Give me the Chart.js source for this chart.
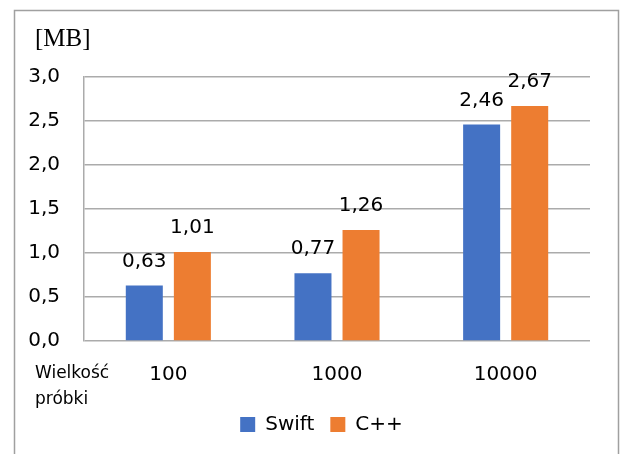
<!DOCTYPE html>
<html>
<head>
<meta charset="utf-8">
<script src="https://cdn.jsdelivr.net/npm/chart.js@4/dist/chart.umd.min.js"></script>
<style>
  html, body { margin: 0; padding: 0; background: #fff; }
  #wrap { width: 620px; height: 454px; }
</style>
</head>
<body>
<div id="wrap"><canvas id="c" width="620" height="454"></canvas></div>
<script>
// Memory usage [MB] by sample size
const categories = ['100', '1000', '10000'];
const swiftValues = [0.63, 0.77, 2.46];
const cppValues = [1.01, 1.26, 2.67];
const seriesNames = ['Swift', 'C++'];
const yTicks = [0, 0.5, 1.0, 1.5, 2.0, 2.5, 3.0];
const unitLabel = '[MB]';
const axisNote = ['Wielkość', 'próbki'];

const SANS = '"DejaVu Sans", sans-serif';
const GRID = '#ababab';

const fmt = (v, d) => v.toFixed(d).replace('.', ',');

// Frame, unit label and axis note around the plot
const decorations = {
  id: 'decorations',
  beforeDraw(chart) {
    const ctx = chart.ctx;
    ctx.save();
    ctx.fillStyle = '#fff';
    ctx.fillRect(0, 0, chart.width, chart.height);
    ctx.strokeStyle = '#a0a0a0';
    ctx.lineWidth = 1.5;
    ctx.beginPath();
    ctx.moveTo(14.5, 470);
    ctx.lineTo(14.5, 10.5);
    ctx.lineTo(618.5, 10.5);
    ctx.lineTo(618.5, 470);
    ctx.stroke();
    ctx.restore();
  },
  afterDraw(chart) {
    const ctx = chart.ctx;
    ctx.save();
    ctx.fillStyle = '#000';
    ctx.textAlign = 'left';
    ctx.textBaseline = 'alphabetic';
    ctx.font = '25px "Liberation Serif", serif';
    ctx.fillText(unitLabel, 35, 46);
    ctx.font = '17px ' + SANS;
    ctx.fillText(axisNote[0], 35, 378);
    ctx.fillText(axisNote[1], 35, 404);
    ctx.restore();
  }
};

// Value labels above each bar
const valueLabels = {
  id: 'valueLabels',
  afterDatasetsDraw(chart) {
    const ctx = chart.ctx;
    ctx.save();
    ctx.fillStyle = '#000';
    ctx.font = '20px ' + SANS;
    ctx.textAlign = 'center';
    ctx.textBaseline = 'alphabetic';
    chart.data.datasets.forEach((ds, i) => {
      chart.getDatasetMeta(i).data.forEach((bar, j) => {
        ctx.fillText(fmt(ds.data[j], 2), bar.x, bar.y - 19);
      });
    });
    ctx.restore();
  }
};

new Chart(document.getElementById('c'), {
  type: 'bar',
  data: {
    labels: categories,
    datasets: [
      { label: seriesNames[0], data: swiftValues, backgroundColor: '#4472C4' },
      { label: seriesNames[1], data: cppValues, backgroundColor: '#ED7D31' }
    ]
  },
  options: {
    responsive: false,
    animation: false,
    devicePixelRatio: 1,
    layout: { padding: { top: 77, left: 23, right: 0, bottom: 9.5 } },
    datasets: { bar: { categoryPercentage: 0.57, barPercentage: 0.77 } },
    plugins: {
      legend: {
        position: 'bottom',
        labels: {
          boxWidth: 15, boxHeight: 15, padding: 16,
          color: '#000',
          font: { family: SANS, size: 20 }
        }
      },
      tooltip: { enabled: false }
    },
    scales: {
      x: {
        grid: { display: false, drawTicks: false },
        border: { display: false },
        ticks: { color: '#000', font: { family: SANS, size: 20 }, padding: 22 },
        afterFit(scale) { scale.height = 57.5; }
      },
      y: {
        min: 0, max: 3,
        afterBuildTicks(scale) { scale.ticks = yTicks.map(v => ({ value: v })); },
        grid: { color: GRID, lineWidth: 1.5, drawTicks: false },
        border: { display: true, color: GRID, width: 1.5 },
        ticks: {
          color: '#000', font: { family: SANS, size: 20 }, padding: 24,
          callback: v => fmt(v, 1)
        },
        afterFit(scale) { scale.width = 61; }
      },
      // empty right-hand margin axis
      yRight: {
        type: 'linear',
        position: 'right',
        grid: { display: false, drawTicks: false },
        border: { display: false },
        ticks: { display: false },
        afterFit(scale) { scale.width = 30; }
      }
    }
  },
  plugins: [decorations, valueLabels]
});
</script>
</body>
</html>
